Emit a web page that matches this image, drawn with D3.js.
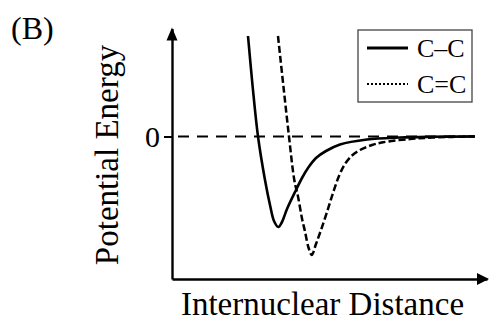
<!DOCTYPE html>
<html>
<head>
<meta charset="utf-8">
<script src="https://cdn.jsdelivr.net/npm/d3@7"></script>
<style>
  html, body { margin: 0; padding: 0; background: #fff; }
  svg { display: block; }
  text { font-family: "Liberation Serif", "Times New Roman", serif; fill: #000; }
</style>
</head>
<body>
<svg id="chart" width="490" height="322"></svg>
<script>
// ---- data (arbitrary units) ----
const panelLabel = "(B)";
const xTitle = "Internuclear Distance";
const yTitle = "Potential Energy";
const yTickValues = [0];
const seriesNames = ["C\u2013C", "C=C"];

// C–C single bond curve: distance, energy
const singleR = [0.76, 0.805, 0.86, 0.93, 0.98, 1.02, 1.063, 1.10, 1.15, 1.24, 1.30, 1.36, 1.44, 1.54, 1.68, 1.95, 2.28, 2.58, 3.03];
const singleE = [1.005, 0.515, 0.0, -0.435, -0.685, -0.845, -0.905, -0.855, -0.725, -0.535, -0.415, -0.315, -0.215, -0.145, -0.08, -0.03, -0.01, -0.003, 0.0];

// C=C double bond curve: distance, energy
const doubleR = [1.06, 1.115, 1.17, 1.223, 1.26, 1.30, 1.33, 1.365, 1.397, 1.44, 1.49, 1.55, 1.61, 1.67, 1.73, 1.80, 1.88, 2.00, 2.11, 2.38, 2.61, 3.03];
const doubleE = [1.005, 0.495, 0.0, -0.435, -0.60, -0.82, -0.95, -1.11, -1.185, -1.075, -0.935, -0.755, -0.565, -0.395, -0.275, -0.19, -0.135, -0.085, -0.058, -0.025, -0.01, 0.0];

// zero reference line extent
const zeroLineR = [0.06, 3.10];

// ---- drawing ----
const svg = d3.select("#chart");
const x = d3.scaleLinear().domain([0, 3.15]).range([172, 487]);
const y = d3.scaleLinear().domain([-1.425, 1.08]).range([279, 28.5]);

// panel label
svg.append("text").attr("x", 11).attr("y", 39)
  .attr("font-size", 32).text(panelLabel);

// zero dashed line
svg.append("line")
  .attr("x1", x(zeroLineR[0])).attr("x2", x(zeroLineR[1]))
  .attr("y1", y(0)).attr("y2", y(0))
  .attr("stroke", "#000").attr("stroke-width", 2.2)
  .attr("stroke-dasharray", "11,8");

// curves
const toPts = (rs, es) => rs.map((r, i) => [r, es[i]]);
const line = d3.line().x(d => x(d[0])).y(d => y(d[1])).curve(d3.curveCatmullRom.alpha(0.5));

svg.append("path").datum(toPts(singleR, singleE))
  .attr("d", line).attr("fill", "none")
  .attr("stroke", "#000").attr("stroke-width", 2.6);

svg.append("path").datum(toPts(doubleR, doubleE))
  .attr("d", line).attr("fill", "none")
  .attr("stroke", "#000").attr("stroke-width", 2.5)
  .attr("stroke-dasharray", "7,3");

// axes
const yAxis = svg.append("g").attr("transform", `translate(${x(0)},0)`)
  .call(d3.axisLeft(y).tickValues(yTickValues).tickFormat(d3.format("d"))
    .tickSize(8).tickSizeOuter(0).tickPadding(4));
yAxis.select(".domain").attr("stroke-width", 2.4);
yAxis.selectAll(".tick line").attr("stroke-width", 2);
yAxis.selectAll(".tick text").attr("font-size", 30)
  .attr("font-family", "Liberation Serif, Times New Roman, serif");

const xAxis = svg.append("g").attr("transform", `translate(0,${y.range()[0]})`)
  .call(d3.axisBottom(x).tickValues([]).tickSizeOuter(0));
xAxis.select(".domain").attr("stroke-width", 2.4);

// arrowheads
const yTop = y.range()[1];
svg.append("path")
  .attr("d", `M${x(0)},${yTop - 1} L${x(0) - 5.5},${yTop + 12} L${x(0) + 5.5},${yTop + 12} Z`)
  .attr("fill", "#000");
const xEnd = x.range()[1];
const yBot = y.range()[0];
svg.append("path")
  .attr("d", `M${xEnd + 2},${yBot} L${xEnd - 10},${yBot - 6} L${xEnd - 10},${yBot + 6} Z`)
  .attr("fill", "#000");

// axis titles
svg.append("text")
  .attr("transform", `translate(118,155) rotate(-90)`)
  .attr("text-anchor", "middle").attr("font-size", 33).text(yTitle);

svg.append("text")
  .attr("x", 322.5).attr("y", 315)
  .attr("text-anchor", "middle").attr("font-size", 33).text(xTitle);

// legend
const legend = svg.append("g");
legend.append("rect").attr("x", 358).attr("y", 30).attr("width", 114).attr("height", 72)
  .attr("fill", "#fff").attr("stroke", "#444").attr("stroke-width", 1.3);
const legY = [48, 84];
const legDash = [null, "2,2"];
const legWidth = [3, 2];
seriesNames.forEach((name, i) => {
  legend.append("line").attr("x1", 367).attr("x2", 408)
    .attr("y1", legY[i]).attr("y2", legY[i])
    .attr("stroke", "#000").attr("stroke-width", legWidth[i])
    .attr("stroke-dasharray", legDash[i]);
  legend.append("text").attr("x", 417).attr("y", legY[i] + 9)
    .attr("font-size", 26).text(name);
});
</script>
</body>
</html>
